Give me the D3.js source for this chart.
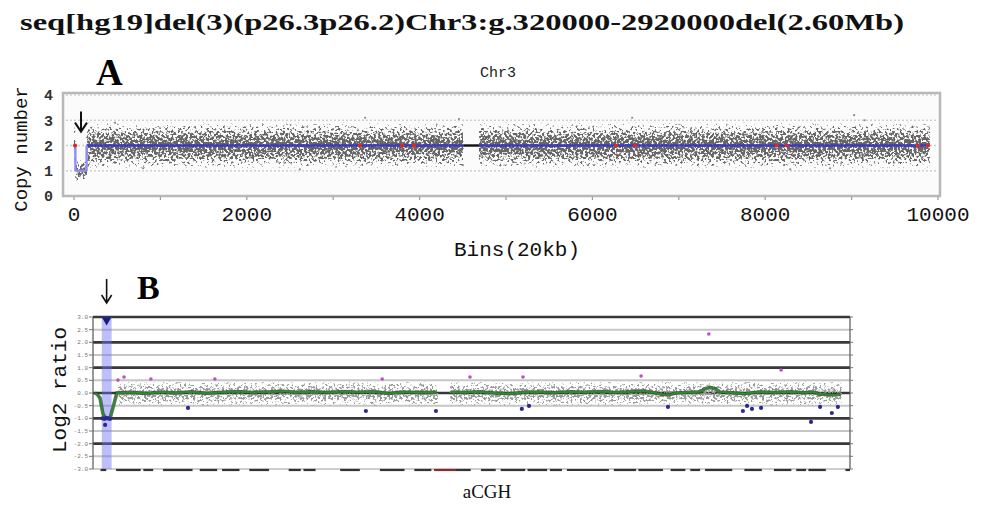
<!DOCTYPE html>
<html><head><meta charset="utf-8">
<script src="https://cdn.jsdelivr.net/npm/d3@7"></script>
<style>body{margin:0;background:#fff}svg{display:block}</style>
</head><body>
<svg id="chart" width="984" height="506"></svg>
<script>
// ================= DATA =================
const titleText = "seq[hg19]del(3)(p26.3p26.2)Chr3:g.320000-2920000del(2.60Mb)";

// ---- Panel A : copy number per 20 kb bin ----
const aTickX = [0, 2000, 4000, 6000, 8000, 10000];
const aMinorX = [0, 1000, 2000, 3000, 4000, 5000, 6000, 7000, 8000, 9000, 10000];
const aTickY = [0, 1, 2, 3, 4];
const aGridY = [1, 2, 3, 4];
// segmentation
const aSegStart = [0, 16, 146, 4505, 4690];
const aSegEnd   = [16, 146, 4505, 4690, 9905];
const aSegCN    = [2, 1, 2, 2, 2];
const aSegKind  = ["normal", "loss", "normal", "gap", "normal"];
// raw-bin cloud envelope (per region)
const aCloudStart = [0, 16, 146, 4690];
const aCloudEnd   = [16, 146, 4505, 9905];
const aCloudLo    = [1.15, 0.55, 1.05, 1.05];
const aCloudHi    = [2.85, 1.45, 2.95, 2.95];
// flagged bins (red) and sparse outliers
const aRedBin = [12, 3310, 3796, 3935, 6273, 6493, 8136, 8252, 9768, 9884];
const aRedCN  = [2, 2, 2, 2, 2, 2, 2, 2, 2, 2];
const aOutBin = [475, 800, 2615, 3370, 4455, 4500, 6460, 8290, 8750, 9030, 9150];
const aOutCN  = [2.9, 1.1, 1.06, 3.1, 3.05, 1.22, 3.1, 1.06, 1.1, 3.2, 3.0];
const aArrowBin = 81;

// ---- Panel B : aCGH log2 ratio along chr3 (Mb) ----
const bTickY  = [3, 2.5, 2, 1.5, 1, 0.5, 0, -0.5, -1, -1.5, -2, -2.5, -3];
const bMajorY = [3, 2, 1, 0, -1, -2];
const bMinorY = [2.5, 1.5, 0.5, -0.5, -1.5, -2.5];
const bHighlight = [0.32, 2.92];
const bGreenPos = [-1.5, -0.9, -0.15, 0.6, 1.2, 2.5, 3.3, 4.3, 8, 12, 16, 20, 24, 28, 32, 36, 40, 44, 48, 52, 56, 60, 64, 68, 72, 76, 80, 84, 88.8, 90.5, 92.5, 96, 100, 104, 108, 112, 116, 120, 124, 128, 132, 136, 140, 144, 148, 150, 152, 156, 158.5, 159.5, 161, 162.5, 163.5, 166, 170, 174, 178, 182, 186, 188, 190, 192, 194, 195.5];
const bGreenVal = [0.0, -0.05, -0.2, -0.8, -1.0, -1.0, -0.56, 0.0, 0.03, -0.02, 0.04, 0.0, 0.05, -0.01, 0.03, 0.06, 0.02, 0.04, 0.07, 0.03, 0.05, 0.02, 0.06, 0.03, 0.05, -0.02, 0.04, 0.02, 0.03, null, 0.04, 0.02, 0.05, 0.0, -0.03, 0.03, 0.04, 0.01, 0.05, 0.03, 0.06, 0.02, 0.05, 0.07, -0.04, -0.08, 0.0, 0.03, 0.05, 0.16, 0.22, 0.16, 0.04, 0.02, -0.03, 0.04, 0.02, 0.05, 0.01, 0.04, -0.04, -0.06, -0.08, -0.05];
const bCloudStart = [4.5, 92.3];
const bCloudEnd   = [89.1, 195.8];
const bCloudLo    = [-0.55, -0.55];
const bCloudHi    = [0.5, 0.5];
const bGainPos = [4.6, 6.2, 13.3, 30.2, 74.4, 97.6, 111.6, 142.8, 160.7, 179.8];
const bGainVal = [0.51, 0.63, 0.55, 0.55, 0.55, 0.63, 0.63, 0.67, 2.33, 0.91];
const bLossPos = [0.5, 1.0, 1.5, 2.0, 2.5, 1.2, 23.1, 70.1, 88.6, 111.3, 113.2, 149.9, 169.7, 170.8, 172.1, 174.5, 187.7, 190.1, 193.2, 194.8];
const bLossVal = [-1.0, -1.02, -0.98, -1.0, -1.02, -1.26, -0.59, -0.71, -0.71, -0.63, -0.51, -0.55, -0.71, -0.51, -0.63, -0.59, -1.14, -0.55, -0.79, -0.55];
const bMarkPos = 1.6;
// chromosome band strip along the bottom axis (Mb)
const bBandStart = [0, 4.1, 11.3, 16.5, 26.2, 32.1, 39.3, 49.7, 53.6, 63.3, 73.8, 82.9, 88.1, 93.9, 100.5, 105.7, 112.8, 118.7, 123.2, 135.6, 142.1, 150.6, 155.8, 159.7, 170.1, 177.9, 183.8, 187.0, 196.8];
const bBandEnd   = [1.5, 10.6, 13.9, 24.3, 30.8, 36.7, 44.5, 52.9, 56.8, 68.5, 80.3, 87.4, 93.9, 97.8, 104.4, 112.2, 118.0, 121.9, 134.3, 141.5, 148.6, 154.5, 158.4, 166.9, 174.7, 182.5, 186.4, 191.6, 198.0];
const bBandKind  = ["d","d","d","d","d","d","d","d","d","d","d","d","cen","d","d","d","d","d","d","d","d","d","d","d","d","d","d","d","d"];

// ================= DRAW =================
const svg = d3.select("#chart");
const mono = "'Liberation Mono', 'DejaVu Sans Mono', monospace";
const serif = "'Liberation Serif', 'Times New Roman', serif";
const defs = svg.append("defs");

function grain(id, color, freq, seed) {
  const f = defs.append("filter").attr("id", id)
    .attr("x", 0).attr("y", 0).attr("width", 1).attr("height", 1)
    .attr("color-interpolation-filters", "sRGB");
  f.append("feTurbulence").attr("type", "fractalNoise").attr("baseFrequency", freq)
    .attr("numOctaves", 2).attr("seed", seed).attr("result", "noise");
  f.append("feColorMatrix").attr("in", "noise").attr("type", "matrix")
    .attr("values", "0 0 0 0 0  0 0 0 0 0  0 0 0 0 0  2.2 0 0 0 -0.6").attr("result", "na");
  f.append("feComposite").attr("in", "SourceGraphic").attr("in2", "na").attr("operator", "arithmetic")
    .attr("k1", 0).attr("k2", 1).attr("k3", -1).attr("k4", 0).attr("result", "diff");
  f.append("feComponentTransfer").attr("in", "diff").attr("result", "mask")
    .append("feFuncA").attr("type", "linear").attr("slope", 4).attr("intercept", 0);
  f.append("feFlood").attr("flood-color", color).attr("result", "col");
  f.append("feComposite").attr("in", "col").attr("in2", "mask").attr("operator", "in").attr("result", "sp");
  f.append("feGaussianBlur").attr("in", "sp").attr("stdDeviation", 0.35);
}
grain("grainA", "#666", 0.42, 7);
grain("grainB", "#9a9a9a", 0.45, 11);
function vgrad(id, peak) {
  const g = defs.append("linearGradient").attr("id", id)
    .attr("x1", 0).attr("y1", 0).attr("x2", 0).attr("y2", 1);
  [[0, 0], [0.12, peak * 0.35], [0.3, peak * 0.75], [0.5, peak], [0.7, peak * 0.75], [0.88, peak * 0.35], [1, 0]].forEach(s =>
    g.append("stop").attr("offset", s[0]).attr("stop-color", "#000").attr("stop-opacity", s[1]));
}
vgrad("gradA", 0.88);
vgrad("gradB", 0.72);

// ---- Title ----
svg.append("text").attr("x", 20).attr("y", 30)
  .attr("font-family", serif).attr("font-weight", "bold").attr("font-size", 24)
  .attr("textLength", 884).attr("lengthAdjust", "spacingAndGlyphs")
  .attr("fill", "#111").text(titleText);

// ---- Panel A ----
const xA = d3.scaleLinear().domain([0, 10000]).range([74, 938]);
const yA = d3.scaleLinear().domain([0, 4]).range([196, 95]);
const boxA = {l: 63, r: 940, t: 93, b: 196};

svg.append("text").attr("x", 96).attr("y", 85).attr("font-family", serif)
  .attr("font-weight", "bold").attr("font-size", 37).attr("fill", "#000").text("A");
svg.append("text").attr("x", 498).attr("y", 77).attr("text-anchor", "middle")
  .attr("font-family", mono).attr("font-size", 15).attr("fill", "#222").text("Chr3");

svg.append("rect").attr("x", boxA.l).attr("y", boxA.t).attr("width", boxA.r - boxA.l).attr("height", boxA.b - boxA.t)
  .attr("fill", "#fbfbfb").attr("stroke", "#b8b8b8").attr("stroke-width", 2.5);

svg.append("g").selectAll("line").data(aGridY).join("line")
  .attr("x1", boxA.l + 3).attr("x2", boxA.r - 3).attr("y1", d => yA(d)).attr("y2", d => yA(d))
  .attr("stroke", "#cfcfcf").attr("stroke-width", 1.5).attr("stroke-dasharray", "2,2");

// cloud of bins
svg.append("g").attr("filter", "url(#grainA)").selectAll("rect")
  .data(aCloudStart.map((s, i) => ({s, e: aCloudEnd[i], lo: aCloudLo[i], hi: aCloudHi[i]})))
  .join("rect")
  .attr("x", d => xA(d.s)).attr("width", d => xA(d.e) - xA(d.s))
  .attr("y", d => yA(d.hi)).attr("height", d => yA(d.lo) - yA(d.hi))
  .attr("fill", "url(#gradA)");

svg.append("g").selectAll("circle").data(aOutBin.map((b, i) => [b, aOutCN[i]])).join("circle")
  .attr("cx", d => xA(d[0])).attr("cy", d => yA(d[1])).attr("r", 1.1).attr("fill", "#888");

// segments
const segs = aSegStart.map((s, i) => ({s, e: aSegEnd[i], cn: aSegCN[i], kind: aSegKind[i]}));
const segColor = k => k === "loss" ? "#8f8ff2" : (k === "gap" ? "#111" : "#3a3ac4");
svg.append("g").selectAll("line").data(segs).join("line")
  .attr("x1", d => xA(d.s)).attr("x2", d => xA(d.e)).attr("y1", d => yA(d.cn)).attr("y2", d => yA(d.cn))
  .attr("stroke", d => segColor(d.kind)).attr("stroke-width", 2.4);
const steps = segs.slice(1).map((d, i) => ({x: d.s, from: segs[i].cn, to: d.cn})).filter(d => d.from !== d.to);
svg.append("g").selectAll("line").data(steps).join("line")
  .attr("x1", d => xA(d.x)).attr("x2", d => xA(d.x)).attr("y1", d => yA(d.from)).attr("y2", d => yA(d.to))
  .attr("stroke", "#8f8ff2").attr("stroke-width", 2.4);

svg.append("g").selectAll("circle").data(aRedBin.map((b, i) => [b, aRedCN[i]])).join("circle")
  .attr("cx", d => xA(d[0])).attr("cy", d => yA(d[1])).attr("r", 2.1).attr("fill", "#e0262a");

// arrow A
(function () {
  const x = xA(aArrowBin), y0 = yA(3.35), y1 = yA(2.55);
  svg.append("path").attr("d", `M${x},${y0}L${x},${y1}M${x - 6},${y1 - 9}L${x},${y1}L${x + 6},${y1 - 9}`)
    .attr("fill", "none").attr("stroke", "#111").attr("stroke-width", 2);
})();

// axes A
svg.append("g").selectAll("line").data(aMinorX).join("line")
  .attr("x1", d => xA(d)).attr("x2", d => xA(d)).attr("y1", boxA.b + 1).attr("y2", boxA.b + 4)
  .attr("stroke", "#999").attr("stroke-width", 1.2);
svg.append("g").selectAll("text").data(aTickX).join("text")
  .attr("x", d => xA(d)).attr("y", 221).attr("text-anchor", "middle")
  .attr("font-family", mono).attr("font-size", 21).attr("fill", "#111").text(d => d);
svg.append("g").selectAll("text").data(aTickY).join("text")
  .attr("x", 53).attr("y", d => yA(d)).attr("dy", "0.35em").attr("text-anchor", "end")
  .attr("font-family", mono).attr("font-weight", "bold").attr("font-size", 15).attr("fill", "#333").text(d => d);
svg.append("text").attr("x", 517).attr("y", 256).attr("text-anchor", "middle")
  .attr("font-family", mono).attr("font-size", 21).attr("fill", "#111").text("Bins(20kb)");
svg.append("text").attr("transform", "translate(27,149) rotate(-90)").attr("text-anchor", "middle")
  .attr("font-family", mono).attr("font-size", 19).attr("fill", "#111").text("Copy number");

// ---- Panel B ----
const xB = d3.scaleLinear().domain([-2, 198]).range([93, 850]);
const yB = d3.scaleLinear().domain([-3, 3]).range([469, 317]);

svg.append("text").attr("x", 137).attr("y", 299).attr("font-family", serif)
  .attr("font-weight", "bold").attr("font-size", 34).attr("fill", "#000").text("B");

svg.append("rect").attr("x", xB(-2)).attr("y", yB(3)).attr("width", xB(198) - xB(-2)).attr("height", yB(-3) - yB(3))
  .attr("fill", "#fff");
svg.append("g").selectAll("line").data(bMinorY).join("line")
  .attr("x1", xB(-2)).attr("x2", xB(198)).attr("y1", d => yB(d)).attr("y2", d => yB(d))
  .attr("stroke", "#c6c6c6").attr("stroke-width", 2);
svg.append("g").selectAll("line").data(bMajorY).join("line")
  .attr("x1", xB(-2)).attr("x2", xB(198)).attr("y1", d => yB(d)).attr("y2", d => yB(d))
  .attr("stroke", "#383838").attr("stroke-width", 2.6);
svg.append("line").attr("x1", xB(-2)).attr("x2", xB(198)).attr("y1", yB(-3)).attr("y2", yB(-3))
  .attr("stroke", "#9a9a9a").attr("stroke-width", 1);
svg.append("g").selectAll("line").data(bBandStart.map((s, i) => ({s, e: bBandEnd[i], k: bBandKind[i]}))).join("line")
  .attr("x1", d => xB(d.s)).attr("x2", d => xB(d.e)).attr("y1", yB(-3) + 1).attr("y2", yB(-3) + 1)
  .attr("stroke", d => d.k === "cen" ? "#8a2a2a" : "#333").attr("stroke-width", 2.2);
[-2, 198].forEach(v => svg.append("line").attr("x1", xB(v)).attr("x2", xB(v)).attr("y1", yB(3)).attr("y2", yB(-3))
  .attr("stroke", "#555").attr("stroke-width", 1.2));
svg.append("g").selectAll("line").data(bTickY).join("line")
  .attr("x1", xB(-2) - 4).attr("x2", xB(-2)).attr("y1", d => yB(d)).attr("y2", d => yB(d))
  .attr("stroke", "#777").attr("stroke-width", 1);
svg.append("g").selectAll("line").data(bTickY).join("line")
  .attr("x1", xB(198)).attr("x2", xB(198) + 3).attr("y1", d => yB(d)).attr("y2", d => yB(d))
  .attr("stroke", "#777").attr("stroke-width", 1);
svg.append("g").selectAll("text").data(bTickY).join("text")
  .attr("x", xB(-2) - 5).attr("y", d => yB(d)).attr("dy", "0.35em").attr("text-anchor", "end")
  .attr("font-family", mono).attr("font-size", 6).attr("fill", "#777").text(d => d.toFixed(1));

svg.append("rect").attr("x", xB(bHighlight[0])).attr("width", xB(bHighlight[1]) - xB(bHighlight[0]))
  .attr("y", yB(3)).attr("height", yB(-3) - yB(3)).attr("fill", "#6e6ef0").attr("opacity", 0.45);

svg.append("g").attr("filter", "url(#grainB)").selectAll("rect")
  .data(bCloudStart.map((s, i) => ({s, e: bCloudEnd[i], lo: bCloudLo[i], hi: bCloudHi[i]})))
  .join("rect")
  .attr("x", d => xB(d.s)).attr("width", d => xB(d.e) - xB(d.s))
  .attr("y", d => yB(d.hi)).attr("height", d => yB(d.lo) - yB(d.hi))
  .attr("fill", "url(#gradB)");

const line = d3.line().defined(d => d[1] !== null).x(d => xB(d[0])).y(d => yB(d[1]));
const gData = bGreenPos.map((p, i) => [p, bGreenVal[i]]);
svg.append("path").datum(gData).attr("d", line).attr("fill", "none")
  .attr("stroke", "#1a3d1a").attr("stroke-width", 3.6).attr("opacity", 0.7);
svg.append("path").datum(gData).attr("d", line).attr("fill", "none")
  .attr("stroke", "#2f8a2f").attr("stroke-width", 1.8);

svg.append("g").selectAll("circle").data(bGainPos.map((p, i) => [p, bGainVal[i]])).join("circle")
  .attr("cx", d => xB(d[0])).attr("cy", d => yB(d[1])).attr("r", 1.8).attr("fill", "#c04fc0");
svg.append("g").selectAll("circle").data(bLossPos.map((p, i) => [p, bLossVal[i]])).join("circle")
  .attr("cx", d => xB(d[0])).attr("cy", d => yB(d[1])).attr("r", 2.1).attr("fill", "#2a2a8e");

svg.append("path").attr("d", d3.symbol(d3.symbolTriangle, 40)())
  .attr("transform", `translate(${xB(bMarkPos)},${yB(2.88)}) rotate(180)`).attr("fill", "#14207a");

(function () {
  const x = xB(bMarkPos), y0 = yB(3) - 38, y1 = yB(3) - 14;
  svg.append("path").attr("d", `M${x},${y0}L${x},${y1}M${x - 5},${y1 - 8}L${x},${y1}L${x + 5},${y1 - 8}`)
    .attr("fill", "none").attr("stroke", "#111").attr("stroke-width", 1.6);
})();

svg.append("text").attr("transform", "translate(66,390) rotate(-90)").attr("text-anchor", "middle")
  .attr("font-family", mono).attr("font-size", 21).attr("fill", "#111").text("Log2 ratio");
svg.append("text").attr("x", 487).attr("y", 498).attr("text-anchor", "middle")
  .attr("font-family", serif).attr("font-size", 19).attr("fill", "#111").text("aCGH");
</script>
</body></html>
